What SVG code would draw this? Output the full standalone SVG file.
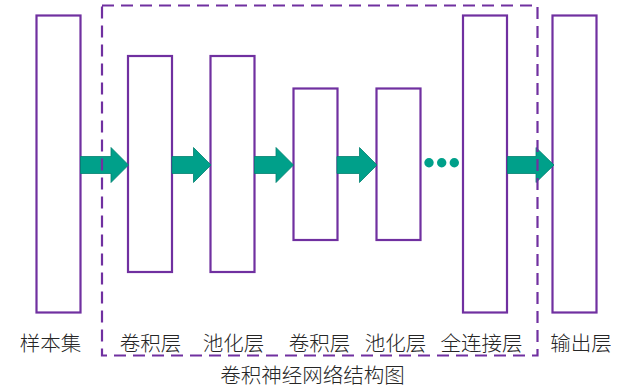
<svg xmlns="http://www.w3.org/2000/svg" width="625" height="388" viewBox="0 0 625 388">
<style>
.layer{fill:#fff;stroke:#7030A0;stroke-width:2.2}
.cnn{fill:none;stroke:#7030A0;stroke-width:2.2;stroke-dasharray:12 7}
.arrow{fill:#00A08A;stroke:#00806E;stroke-width:0.8}
.dot{fill:#00A08A}
.lbl{font-family:"Noto Sans CJK SC","Noto Sans",sans-serif;font-weight:300;font-size:20.5px;fill:#262626;text-anchor:middle}
</style>
<rect width="625" height="388" fill="#fff"/>
<g id="sample"><rect class="layer" x="36.5" y="15.5" width="44" height="297"/></g>
<g id="conv1"><rect class="layer" x="128" y="56" width="44" height="216"/></g>
<g id="pool1"><rect class="layer" x="210.5" y="56" width="44" height="216"/></g>
<g id="conv2"><rect class="layer" x="293.5" y="88.5" width="44" height="151.5"/></g>
<g id="pool2"><rect class="layer" x="376.5" y="88.5" width="44" height="151.5"/></g>
<g id="fc"><rect class="layer" x="463" y="15.5" width="44" height="297"/></g>
<g id="output"><rect class="layer" x="552.5" y="15.5" width="44" height="297"/></g>
<g id="connectors">
<polygon class="arrow" points="80.5,156.5 111,156.5 111,147.5 128.5,165 111,182.5 111,173.5 80.5,173.5"/>
<polygon class="arrow" points="172,156.5 193.5,156.5 193.5,147.5 211,165 193.5,182.5 193.5,173.5 172,173.5"/>
<polygon class="arrow" points="254.5,156.5 276,156.5 276,147.5 293.5,165 276,182.5 276,173.5 254.5,173.5"/>
<polygon class="arrow" points="337,156.5 359.5,156.5 359.5,147.5 377,165 359.5,182.5 359.5,173.5 337,173.5"/>
<polygon class="arrow" points="507.5,156.5 536,156.5 536,147.5 554,165 536,182.5 536,173.5 507.5,173.5"/>
</g>
<g id="cnn-box"><rect class="cnn" x="102" y="5.5" width="435.5" height="350"/></g>
<g id="ellipsis">
<circle class="dot" cx="429" cy="162.7" r="4.7"/>
<circle class="dot" cx="441.7" cy="162.7" r="4.7"/>
<circle class="dot" cx="454.3" cy="162.7" r="4.7"/>
</g>
<g id="labels">
<text class="lbl" x="50.5" y="351">样本集</text>
<text class="lbl" x="150.5" y="351">卷积层</text>
<text class="lbl" x="233.5" y="351">池化层</text>
<text class="lbl" x="319.5" y="351">卷积层</text>
<text class="lbl" x="395.5" y="351">池化层</text>
<text class="lbl" x="481.5" y="351">全连接层</text>
<text class="lbl" x="581" y="351">输出层</text>
<text class="lbl" x="312.5" y="383">卷积神经网络结构图</text>
</g>
</svg>
